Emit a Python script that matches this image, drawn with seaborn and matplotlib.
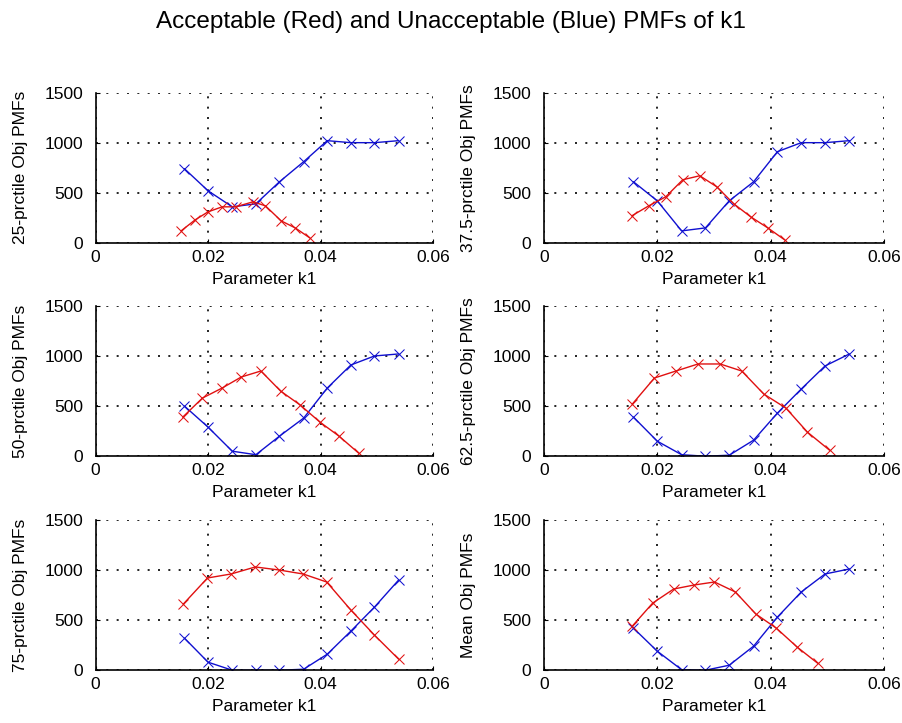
import matplotlib
matplotlib.use("Agg")
import matplotlib.pyplot as plt
import seaborn as sns
import numpy as np

sns.set_style("white")
plt.rcParams['font.family'] = ['Liberation Sans', 'DejaVu Sans']

TITLE = "Acceptable (Red) and Unacceptable (Blue) PMFs of k1"
XLABEL = "Parameter k1"
ylabels = ["25-prctile Obj PMFs", "37.5-prctile Obj PMFs", "50-prctile Obj PMFs",
           "62.5-prctile Obj PMFs", "75-prctile Obj PMFs", "Mean Obj PMFs"]

blue_x = [0.0158, 0.0200, 0.0243, 0.0285, 0.0327, 0.0370, 0.0412, 0.0454, 0.0496, 0.0539]

# 25-prctile
red_x_25 = [0.0152, 0.0177, 0.0200, 0.0225, 0.0249, 0.0280, 0.0302, 0.0330, 0.0355, 0.0381]
red_y_25 = [120, 230, 310, 360, 360, 410, 370, 220, 150, 50]
blue_y_25 = [740, 520, 360, 390, 610, 810, 1020, 1000, 1000, 1020]

# 37.5-prctile
red_x_375 = [0.0155, 0.0185, 0.0215, 0.0245, 0.0275, 0.0305, 0.0335, 0.0365, 0.0395, 0.0425]
red_y_375 = [270, 370, 460, 630, 670, 560, 390, 260, 150, 30]
blue_y_375 = [610, 420, 120, 150, 420, 610, 910, 1000, 1000, 1020]

# 50-prctile
red_x_50 = [0.0155, 0.0190, 0.0225, 0.0259, 0.0294, 0.0329, 0.0364, 0.0399, 0.0433, 0.0468]
red_y_50 = [390, 580, 680, 790, 850, 650, 510, 340, 200, 30]
blue_y_50 = [500, 290, 50, 15, 200, 380, 680, 910, 1000, 1020]

# 62.5-prctile
red_x_625 = [0.0156, 0.0195, 0.0233, 0.0272, 0.0311, 0.0349, 0.0388, 0.0427, 0.0465, 0.0504]
red_y_625 = [520, 780, 850, 920, 920, 850, 620, 480, 240, 60]
blue_y_625 = [390, 150, 15, 0, 10, 160, 430, 670, 900, 1020]

# 75-prctile
red_x_75 = [0.0156, 0.0199, 0.0241, 0.0284, 0.0326, 0.0369, 0.0411, 0.0454, 0.0496, 0.0539]
red_y_75 = [660, 920, 960, 1030, 1000, 960, 880, 600, 350, 110]
blue_y_75 = [320, 80, 0, 0, 0, 10, 160, 390, 630, 900]

# Mean
red_x_mean = [0.0156, 0.0192, 0.0229, 0.0265, 0.0301, 0.0338, 0.0374, 0.0410, 0.0447, 0.0483]
red_y_mean = [440, 670, 810, 850, 880, 780, 560, 420, 230, 70]
blue_y_mean = [420, 190, 5, 0, 50, 240, 530, 780, 960, 1010]

panels = [
    (red_x_25, red_y_25, blue_y_25),
    (red_x_375, red_y_375, blue_y_375),
    (red_x_50, red_y_50, blue_y_50),
    (red_x_625, red_y_625, blue_y_625),
    (red_x_75, red_y_75, blue_y_75),
    (red_x_mean, red_y_mean, blue_y_mean),
]

fig = plt.figure(figsize=(9.02, 7.23), dpi=100)
lefts = [0.106, 0.603]
width_l = 0.480 - 0.106
width_r = 0.980 - 0.603
bottoms = [0.664, 0.369, 0.073]
height = 0.208

fs = 12.5
for i, (rx, ry, by) in enumerate(panels):
    r, c = divmod(i, 2)
    w = width_l if c == 0 else width_r
    ax = fig.add_axes([lefts[c], bottoms[r], w, height])
    sns.lineplot(x=blue_x, y=by, ax=ax, color='#1010d0', marker='x', markersize=7,
                 markeredgecolor='#1010d0', linewidth=1, sort=False)
    sns.lineplot(x=rx, y=ry, ax=ax, color='#e01010', marker='x', markersize=7,
                 markeredgecolor='#e01010', linewidth=1, sort=False)
    ax.set_xlim(0, 0.06)
    ax.set_ylim(0, 1500)
    ax.set_xticks([0, 0.02, 0.04, 0.06])
    ax.set_xticklabels(["0", "0.02", "0.04", "0.06"])
    ax.set_yticks([0, 500, 1000, 1500])
    ax.set_yticklabels(["0", "500", "1000", "1500"])
    ax.grid(True, color='black', linestyle=(0, (1.2, 5)), linewidth=1.2)
    ax.set_axisbelow(True)
    for s in ['top', 'right']:
        ax.spines[s].set_visible(False)
    for s in ['left', 'bottom']:
        ax.spines[s].set_color('black')
        ax.spines[s].set_linewidth(1.2)
    ax.tick_params(axis='y', direction='in', length=3, labelsize=fs, colors='black',
                   left=True, pad=9)
    ax.tick_params(axis='x', direction='in', length=3, labelsize=fs, colors='black',
                   bottom=True, pad=5)
    ax.set_xlabel(XLABEL, fontsize=fs, color='black', labelpad=5)
    ax.set_ylabel(ylabels[i], fontsize=fs, color='black', labelpad=12)

fig.suptitle(TITLE, fontsize=17.5, y=0.985, color='black')
fig.savefig("out.png", dpi=100, facecolor='white')
